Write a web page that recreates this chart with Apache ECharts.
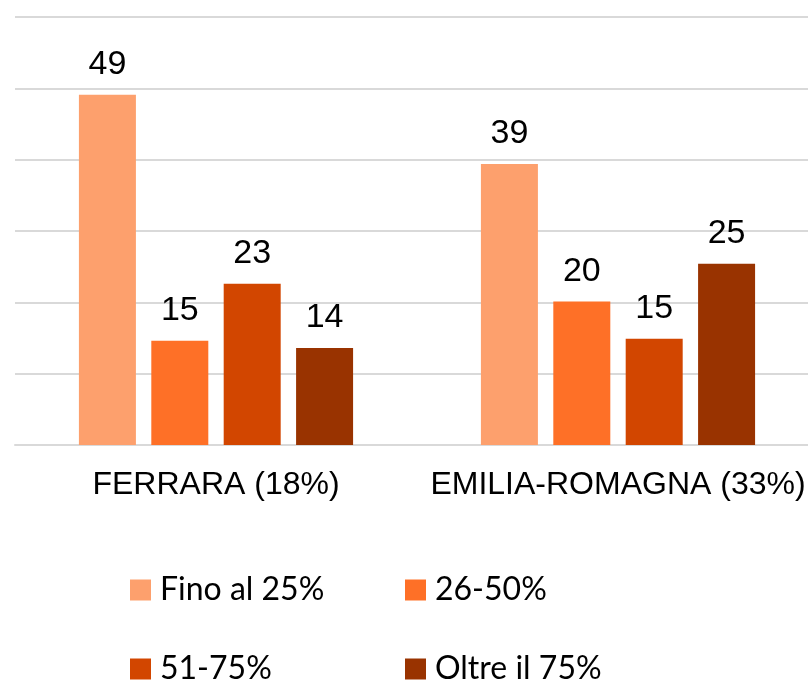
<!DOCTYPE html>
<html>
<head>
<meta charset="utf-8">
<script src="https://cdn.jsdelivr.net/npm/echarts@6/dist/echarts.min.js"></script>
<style>
  html, body { margin: 0; padding: 0; background: #fff; }
  #chart { width: 808px; height: 680px; }
</style>
</head>
<body>
<div id="chart"></div>
<script>
// categorie e serie
var categories = ['FERRARA (18%)', 'EMILIA-ROMAGNA (33%)'];
var seriesNames = ['Fino al 25%', '26-50%', '51-75%', 'Oltre il 75%'];
var fino25 = [49.1, 39.4];
var da26a50 = [14.6, 20.1];
var da51a75 = [22.6, 14.9];
var oltre75 = [13.6, 25.4];
var colors = ['#FDA06D', '#FE7027', '#D24600', '#993300'];

var chart = echarts.init(document.getElementById('chart'));

var values = [fino25, da26a50, da51a75, oltre75];

var series = seriesNames.map(function (name, i) {
  return {
    name: name,
    type: 'bar',
    data: values[i],
    barWidth: 57,
    barGap: '27%',
    itemStyle: { color: colors[i] },
    label: {
      show: true,
      position: 'top',
      distance: 13,
      color: '#000',
      fontFamily: 'Liberation Sans',
      fontSize: 34,
      formatter: function (p) { return Math.round(p.value); }
    }
  };
});

// una legenda per voce, disposte su due righe
var legendPos = [
  { left: 130, top: 574 },
  { left: 405, top: 574 },
  { left: 130, top: 653 },
  { left: 405, top: 653 }
];
var legends = seriesNames.map(function (name, i) {
  return {
    data: [name],
    left: legendPos[i].left,
    top: legendPos[i].top,
    padding: 0,
    icon: 'rect',
    itemWidth: 21,
    itemHeight: 21,
    selectedMode: false,
    textStyle: {
      color: '#000',
      fontFamily: 'Lato',
      fontSize: 32,
      padding: [0, 0, 0, 4]
    }
  };
});

var option = {
  animation: false,
  color: colors,
  legend: legends,
  grid: { left: 15, top: 17, width: 804, bottom: 235, containLabel: false, outerBoundsMode: 'none' },
  xAxis: {
    type: 'category',
    data: categories,
    axisLine: { lineStyle: { color: '#D9D9D9', width: 2 } },
    axisTick: { show: false },
    axisLabel: {
      interval: 0,
      hideOverlap: false,
      color: '#000',
      fontFamily: 'Liberation Sans',
      fontSize: 32,
      margin: 24
    }
  },
  yAxis: {
    type: 'value',
    min: 0,
    max: 60,
    interval: 10,
    axisLabel: { show: false },
    axisLine: { show: false },
    axisTick: { show: false },
    splitLine: { lineStyle: { color: '#D9D9D9', width: 2 } }
  },
  series: series
};

chart.setOption(option);
</script>
</body>
</html>
